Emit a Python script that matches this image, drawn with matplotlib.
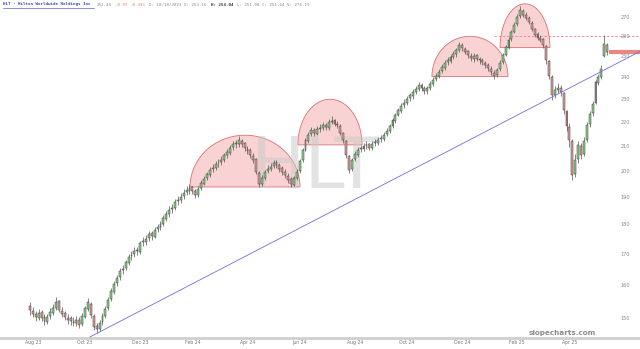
import numpy as np
import matplotlib
matplotlib.use('Agg')
import matplotlib.pyplot as plt
from matplotlib.ticker import NullLocator
from matplotlib.lines import Line2D

# HLT candles (compressed, about 2 sessions per candle), Aug 2023 - May 2025
opens = [153.4, 152.0, 151.2, 150.0, 151.8, 150.1, 148.8, 150.4, 151.5, 152.8,
         154.9, 152.0, 151.3, 150.0, 149.8, 148.8, 148.4, 149.5, 148.2, 150.3,
         152.5, 154.2, 150.6, 147.6, 146.9, 148.8, 150.4, 152.9, 155.6, 157.8,
         160.5, 162.3, 164.6, 165.2, 167.0, 169.1, 169.8, 171.3, 170.6, 173.8,
         174.0, 175.3, 176.9, 175.8, 178.4, 179.2, 180.3, 182.1, 183.9, 185.6,
         185.8, 188.5, 188.7, 190.3, 191.8, 192.2, 193.6, 192.3, 190.6, 193.2,
         195.0, 197.1, 198.2, 200.6, 201.0, 202.9, 203.3, 204.0, 206.3, 207.1,
         209.3, 210.8, 210.7, 212.0, 210.9, 208.7, 208.1, 205.8, 204.5, 199.2,
         195.0, 197.0, 199.8, 200.6, 201.8, 203.3, 202.0, 200.9, 199.6, 198.0,
         196.8, 194.6, 197.3, 199.8, 204.1, 208.3, 212.0, 214.9, 216.6, 215.0,
         217.1, 217.4, 218.7, 217.4, 220.1, 220.8, 219.0, 218.3, 215.1, 212.0,
         205.6, 200.8, 204.5, 206.2, 208.5, 208.8, 210.1, 210.6, 209.0, 210.9,
         211.2, 212.7, 212.8, 214.7, 216.0, 218.3, 220.5, 223.1, 224.8, 227.3,
         228.1, 230.4, 231.3, 233.3, 234.4, 236.5, 235.2, 233.6, 235.1, 236.8,
         239.2, 240.5, 242.9, 244.6, 247.2, 247.8, 249.9, 251.0, 253.2, 255.8,
         253.7, 252.5, 250.2, 248.8, 250.5, 248.6, 248.3, 246.9, 245.9, 244.0,
         242.2, 241.0, 243.8, 247.2, 250.8, 254.3, 258.6, 262.3, 266.2, 270.5,
         273.4, 271.3, 269.2, 267.0, 263.5, 261.1, 259.0, 258.6, 255.2, 247.6,
         240.3, 231.9, 234.2, 235.0, 232.6, 224.6, 217.7, 211.8, 198.8, 204.4,
         210.0, 206.5, 212.3, 218.9, 223.7, 228.4, 237.3, 240.3, 250.0, 255.8]

closes = [152.3, 151.0, 150.3, 151.5, 149.8, 149.0, 150.2, 151.8, 153.0, 154.6,
          152.3, 151.0, 150.2, 149.5, 149.0, 148.6, 149.3, 147.9, 150.5, 152.8,
          154.6, 150.8, 147.3, 146.8, 148.5, 150.6, 152.6, 155.4, 158.0, 160.2,
          162.0, 164.3, 165.0, 167.2, 168.8, 169.5, 171.0, 170.8, 173.5, 174.2,
          175.0, 176.6, 176.0, 178.1, 179.0, 180.0, 182.4, 183.6, 185.3, 186.0,
          188.2, 188.9, 190.0, 191.5, 192.4, 193.3, 192.0, 190.8, 193.0, 195.2,
          196.8, 198.5, 200.3, 201.2, 202.6, 203.1, 204.2, 206.0, 207.3, 209.0,
          210.5, 211.0, 212.3, 210.6, 209.0, 207.8, 206.0, 204.2, 199.5, 194.8,
          197.2, 199.5, 200.8, 201.5, 203.0, 202.2, 200.6, 199.4, 198.3, 196.5,
          194.8, 197.0, 199.5, 203.8, 208.0, 212.3, 214.6, 216.4, 215.2, 216.8,
          217.2, 218.5, 217.6, 219.8, 220.5, 219.2, 218.6, 215.4, 212.3, 206.0,
          200.3, 204.2, 206.5, 208.2, 209.0, 209.8, 210.3, 209.2, 210.6, 211.5,
          212.4, 213.0, 214.4, 216.2, 218.0, 220.7, 222.8, 225.0, 227.0, 228.4,
          230.1, 231.6, 233.0, 234.6, 236.2, 235.0, 233.8, 234.8, 237.0, 238.9,
          240.8, 242.6, 244.8, 246.9, 248.0, 249.6, 251.2, 252.9, 255.5, 254.0,
          252.2, 250.5, 249.0, 250.2, 248.8, 248.0, 247.1, 245.6, 244.2, 242.5,
          240.8, 243.5, 246.9, 250.5, 254.6, 258.3, 262.0, 265.9, 270.2, 273.7,
          271.0, 269.5, 267.4, 263.8, 260.8, 259.2, 258.3, 255.5, 248.0, 240.8,
          231.6, 233.9, 235.2, 233.0, 225.0, 218.0, 212.3, 198.3, 204.0, 210.3,
          206.1, 212.0, 218.6, 223.4, 228.0, 237.7, 240.0, 244.0, 256.0, 252.0]

highs = [154.6, 153.1, 152.0, 152.6, 152.3, 151.0, 151.2, 152.9, 154.1, 156.3,
         155.4, 153.2, 152.1, 151.0, 150.4, 150.1, 150.5, 150.2, 151.3, 153.6,
         155.8, 154.8, 151.2, 148.4, 149.3, 151.4, 153.5, 156.2, 158.9, 161.3,
         163.1, 165.4, 166.3, 168.1, 169.9, 170.8, 172.2, 172.4, 174.4, 175.6,
         176.2, 177.8, 177.6, 179.0, 180.3, 181.4, 183.5, 184.8, 186.5, 187.4,
         189.3, 190.2, 191.3, 192.8, 193.9, 194.7, 194.2, 193.0, 193.9, 196.4,
         197.9, 199.6, 201.5, 202.6, 203.8, 204.6, 205.6, 207.1, 208.6, 210.2,
         211.8, 212.5, 214.0, 212.9, 211.6, 210.0, 208.9, 206.9, 205.0, 199.8,
         198.1, 200.4, 202.1, 202.9, 204.3, 204.1, 203.0, 201.6, 200.5, 198.9,
         197.4, 197.8, 200.6, 204.7, 209.0, 213.2, 215.7, 217.6, 217.5, 218.0,
         218.9, 219.8, 219.6, 221.0, 222.3, 221.4, 220.3, 218.9, 215.8, 212.5,
         206.2, 205.1, 207.6, 209.3, 210.4, 211.0, 211.7, 211.2, 211.8, 212.8,
         213.6, 214.3, 215.5, 217.3, 219.1, 221.8, 223.9, 226.2, 228.3, 229.8,
         231.4, 232.9, 234.4, 235.9, 237.6, 237.2, 236.0, 236.1, 238.3, 240.1,
         242.0, 243.9, 246.1, 248.2, 249.5, 250.9, 252.6, 254.3, 257.0, 256.6,
         254.8, 253.2, 251.6, 251.7, 251.3, 249.9, 249.2, 247.8, 246.6, 245.1,
         243.3, 244.6, 248.0, 251.6, 255.8, 259.6, 263.4, 267.2, 271.6, 275.6,
         274.5, 272.6, 270.3, 267.8, 264.4, 262.0, 260.6, 259.3, 255.8, 248.2,
         241.0, 236.0, 237.4, 236.3, 233.1, 225.3, 219.4, 212.6, 206.5, 212.0,
         211.2, 213.4, 219.8, 224.6, 229.3, 238.6, 241.5, 245.6, 260.5, 256.8]

lows = [150.8, 150.2, 149.1, 149.4, 149.0, 147.9, 148.1, 149.7, 150.9, 152.2,
        151.6, 150.1, 149.4, 148.3, 147.8, 147.5, 147.6, 147.0, 147.6, 149.9,
        152.0, 150.0, 146.6, 145.7, 146.2, 148.0, 149.9, 152.3, 155.0, 157.2,
        159.6, 161.5, 163.4, 164.6, 166.2, 167.9, 168.9, 169.5, 170.0, 172.6,
        173.1, 174.4, 174.8, 175.2, 177.3, 178.1, 179.5, 181.3, 182.8, 184.2,
        185.0, 187.1, 187.6, 189.2, 190.6, 191.0, 191.1, 189.5, 189.9, 192.5,
        194.3, 196.2, 197.6, 199.4, 200.1, 201.5, 202.0, 203.2, 205.1, 206.3,
        208.2, 209.1, 209.6, 209.3, 207.8, 206.5, 204.9, 203.0, 198.6, 193.6,
        194.1, 196.2, 198.9, 199.7, 200.9, 201.0, 199.5, 198.2, 197.1, 195.3,
        193.7, 193.9, 196.5, 199.1, 203.4, 207.6, 211.2, 213.8, 214.1, 214.2,
        215.8, 216.3, 216.4, 216.7, 218.9, 218.1, 217.2, 214.3, 211.0, 204.8,
        198.9, 200.0, 203.6, 205.4, 207.3, 207.6, 208.8, 208.1, 208.2, 209.7,
        210.3, 211.5, 211.9, 213.9, 215.2, 217.5, 219.6, 222.3, 223.9, 226.1,
        227.2, 229.3, 230.2, 232.1, 233.5, 233.8, 232.4, 232.5, 234.2, 235.9,
        238.3, 239.6, 241.8, 243.6, 245.9, 246.7, 248.6, 249.8, 252.3, 252.8,
        251.0, 249.2, 247.8, 247.5, 247.6, 246.4, 245.8, 244.2, 243.0, 241.1,
        239.4, 240.1, 243.0, 246.4, 250.0, 253.5, 257.8, 261.5, 265.4, 269.6,
        270.0, 268.3, 266.1, 262.5, 259.5, 257.9, 256.9, 254.1, 246.5, 239.0,
        229.5, 230.4, 232.6, 231.2, 223.4, 216.2, 209.5, 196.2, 197.5, 202.8,
        204.5, 205.6, 211.5, 217.8, 222.6, 227.8, 236.2, 239.2, 249.5, 250.9]

y_ticks = [150, 160, 170, 180, 190, 200, 210, 220, 230, 240, 250, 260, 270]
x_labels = ['Aug 23', 'Oct 23', 'Dec 23', 'Feb 24', 'Apr 24', 'Jun 24',
            'Aug 24', 'Oct 24', 'Dec 24', 'Feb 25', 'Apr 25']
x_label_bars = [1, 19, 38, 56, 75, 93, 112, 130, 149, 168, 186]

# rounded tops drawn on the chart: (first bar, last bar, base price, top price)
domes = [(55.2, 93.1, 193.7, 214.3),
         (92.4, 114.5, 210.3, 229.9),
         (138.6, 164.8, 240.3, 260.0),
         (162.1, 179.3, 254.3, 277.0)]
trend_bars = [20.7, 210.3]
trend_prices = [144.5, 252.4]
resistance = 260.0
resistance_from = 160

# header pieces: (text, colour, weight)
header = [('HLT - Hilton Worldwide Holdings Inc', '#3540b8', 'bold'),
          ('252.44', '#888888', 'normal'),
          ('-0.97 -0.39%', '#e07a5a', 'normal'),
          ('D: 10/18/2023 O: 253.16', '#888888', 'normal'),
          ('H: 254.04', '#333333', 'bold'),
          ('L: 251.08 C: 251.64 V: 276.19', '#888888', 'normal')]

fig = plt.figure(figsize=(6.4, 3.49), dpi=100)
ax = fig.add_axes([0, 11 / 349, 1, 338 / 349])
ax.set_yscale('log')
ax.set_xlim(-10.34, 210.34)
ax.set_ylim(144.2, 279.1)

# domes
t = np.linspace(0, np.pi, 80)
for x0, x1, base, top in domes:
    cx, hw = (x0 + x1) / 2, (x1 - x0) / 2
    xs = cx + hw * np.cos(t)
    ys = np.exp(np.log(base) + (np.log(top) - np.log(base)) * np.sin(t))
    ax.fill(xs, ys, facecolor='#f9d3d3', edgecolor='#dd7070', linewidth=0.6, zorder=1)

# watermark (sits over the domes)
ax.text(0.492, 0.50, 'HLT', transform=ax.transAxes, ha='center', va='center',
        fontsize=52, color='#c8c8c8', alpha=0.5, zorder=1.5)

# trendline and levels
ax.plot(trend_bars, trend_prices, color='#6f6fe0', lw=0.6, zorder=5)
ax.hlines(resistance, resistance_from, 210.34, colors='#e08a8a', lw=0.6,
          linestyles=(0, (3, 2)), zorder=2)
ax.hlines(closes[-1], len(closes) - 0.5, 210.34, colors='#e88585', lw=3, zorder=2)

# candles
o = np.array(opens)
c = np.array(closes)
idx = np.arange(len(c))
up = c >= o
ax.vlines(idx, lows, highs, color='#555555', lw=0.5, zorder=3)
ax.bar(idx[up], (c - o)[up], bottom=o[up], width=0.65, color='#86d086',
       edgecolor='#3d3d3d', linewidth=0.35, zorder=4)
ax.bar(idx[~up], (o - c)[~up], bottom=c[~up], width=0.65, color='#e09a9a',
       edgecolor='#3d3d3d', linewidth=0.35, zorder=4)

# axes styling
ax.set_yticks(y_ticks)
ax.set_yticklabels([str(v) for v in y_ticks])
ax.yaxis.set_minor_locator(NullLocator())
ax.yaxis.tick_right()
ax.tick_params(axis='y', length=0, pad=-14, labelsize=3.6, labelcolor='#888888')
ax.set_xticks(x_label_bars)
ax.set_xticklabels(x_labels)
ax.tick_params(axis='x', length=0, pad=1.5, labelsize=3.3, labelcolor='#777777')
for side in ['top', 'left', 'right']:
    ax.spines[side].set_visible(False)
ax.spines['bottom'].set_color('#cfcfcf')
ax.spines['bottom'].set_linewidth(2)

ax.text(562 / 640, 5 / 338, 'slopecharts.com', transform=ax.transAxes,
        ha='center', va='center', fontsize=5.2, fontweight='bold', color='#8a8a8a')

# header line, monospace so pieces follow each other by character count
H = 349
char_w = 2.6
col = 0
for text, color, weight in header:
    x = 3 + col * char_w
    fig.text(x / 640, 1 - 4.5 / H, text, fontsize=3.0, family='DejaVu Sans Mono',
             color=color, weight=weight, va='center', ha='left')
    if col == 0:
        fig.add_artist(Line2D([x / 640, (x + len(text) * char_w) / 640],
                              [1 - 7.5 / H, 1 - 7.5 / H], color=color, lw=0.4))
    col += len(text) + 1

plt.savefig('out.png', dpi=100)
